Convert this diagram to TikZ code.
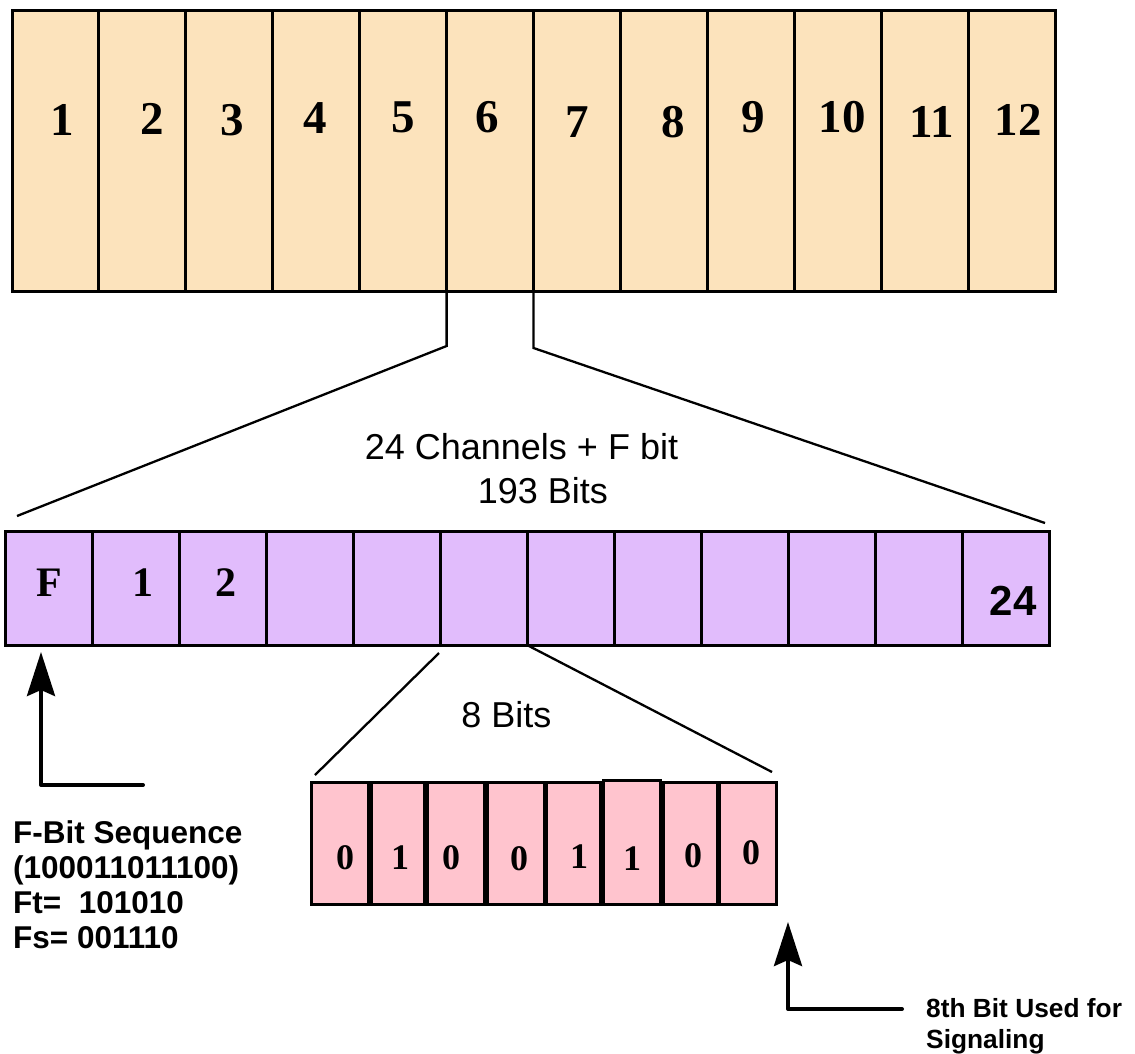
\documentclass[tikz,border=0pt]{standalone}
\usepackage{fontspec}
\setmainfont{Liberation Serif}
\setsansfont{Liberation Sans}
\usetikzlibrary{arrows.meta}
\definecolor{topfill}{RGB}{252,227,188}
\definecolor{midfill}{RGB}{225,188,252}
\definecolor{bitfill}{RGB}{255,196,206}
\begin{document}
\begin{tikzpicture}[x=1pt,y=-1pt,
  cell/.style={draw=black, line width=3pt, inner sep=0pt, outer sep=0pt, anchor=north west},
  topnum/.style={inner sep=0pt, font={\fontsize{47}{50}\selectfont\bfseries}},
  midnum/.style={inner sep=0pt, font={\fontsize{42}{45}\selectfont\bfseries}},
  bitnum/.style={inner sep=0pt, font={\fontsize{36}{40}\selectfont\bfseries}},
  bigsans/.style={inner sep=0pt, anchor=base, font={\sffamily\fontsize{36}{40}\selectfont}},
  note/.style={inner sep=0pt, anchor=base west, align=left},
  conn/.style={draw=black, line width=2.3pt},
  sigarrow/.style={draw=black, line width=4pt, line join=round, line cap=round,
    -{Stealth[length=44pt,width=28pt,inset=6pt]}}]
\useasboundingbox (0,0) rectangle (1135,1053);

% top frame: 12 slots
\foreach \i in {1,...,12}
  \node[cell, fill=topfill, minimum width=86.92pt, minimum height=281pt] (t\i) at ({12+(\i-1)*86.92},10) {};
\foreach \i/\x/\y in {1/62/120, 2/152/119, 3/232/120, 4/315/118, 5/403/117, 6/487/117,
                      7/577/122, 8/673/122, 9/753/117, 10/842/117, 11/932/122, 12/1018/120}
  \node[topnum] (tn\i) at (\x,\y) {\i};

% middle frame: F + 24 channels (12 drawn)
\foreach \i in {1,...,12}
  \node[cell, fill=midfill, minimum width=87pt, minimum height=114pt] (p\i) at ({5+(\i-1)*87},531) {};
\node[midnum] (pF) at (49,583) {F};
\node[midnum] (p1n) at (143,583) {1};
\node[midnum] (p2n) at (226,583) {2};
\node[inner sep=0pt, font={\sffamily\bfseries\fontsize{42}{45}\selectfont}] (p24) at (1013,601) {24};

% 8 bits
\foreach \i/\a/\b/\t in {1/311/368/782, 2/371/424/782, 3/427/484/782, 4/487/544/782,
                         5/546/600/782, 6/603/660/780, 7/663/717/782, 8/719/776/782}
  \node[cell, fill=bitfill, minimum width={\b pt-\a pt}, minimum height={904pt-\t pt}] (b\i) at (\a,\t) {};
\foreach \i/\x/\y/\v in {1/345/858/0, 2/400/858/1, 3/451/858/0, 4/519/859/0,
                         5/579/857/1, 6/632/859/1, 7/693/856/0, 8/751/853/0}
  \node[bitnum] (bn\i) at (\x,\y) {\v};

% labels
\node[bigsans] (lab1) at (521.5,459) {24 Channels + F bit};
\node[bigsans] (lab2) at (543,503) {193 Bits};
\node[bigsans] (lab3) at (506.5,727) {8 Bits};
\node[note, font={\sffamily\bfseries\fontsize{31.5}{34.7}\selectfont}] (fseq) at (13,948)
  {F-Bit Sequence\\(100011011100)\\Ft=\ \ 101010\\Fs= 001110};
\node[note, font={\sffamily\bfseries\fontsize{26.3}{31}\selectfont}] (sig) at (926,1048)
  {8th Bit Used for\\Signaling};

% expansion connectors
\coordinate (k1) at (446.6,346);
\coordinate (k2) at (17,516);
\coordinate (k3) at (533.5,348);
\coordinate (k4) at (1045,523);
\draw[conn] (t6.south west) -- (k1) -- (k2);
\draw[conn] (t7.south west) -- (k3) -- (k4);
\coordinate (m1) at (439,653);
\coordinate (m2) at (315,775);
\coordinate (m3) at (772,772);
\draw[conn] (m1) -- (m2);
\draw[conn] (p7.south west) -- (m3);

% pointer arrows
\coordinate (fa0) at (143,785);
\coordinate (fa1) at (41,785);
\coordinate (fa2) at (41,652);
\draw[sigarrow] (fa0) -- (fa1) -- (fa2);
\coordinate (sa0) at (902,1009);
\coordinate (sa1) at (788,1009);
\coordinate (sa2) at (788,922);
\draw[sigarrow] (sa0) -- (sa1) -- (sa2);
\end{tikzpicture}
\end{document}
